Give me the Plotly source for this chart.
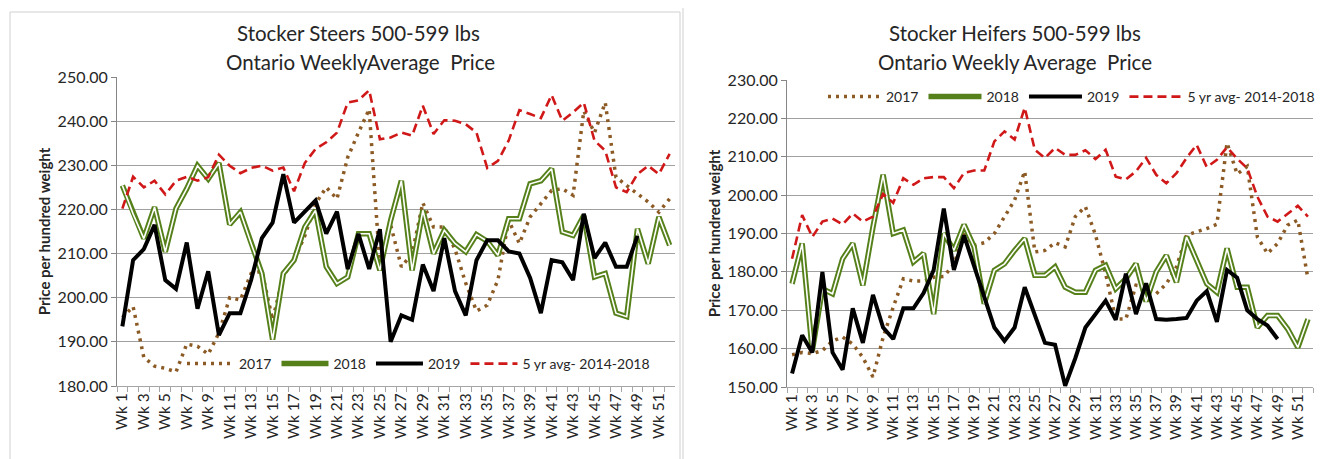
import plotly.graph_objects as go

weeks = [f"Wk {i}" for i in range(1, 53)]
tick_text = [w if (i % 2 == 0) else "" for i, w in enumerate(weeks)]

steers_2017 = [195.5, 198.0, 186.5, 184.5, 184.0, 183.2, 189.5, 189.0, 187.2, 192.0,
               200.0, 199.5, 205.5, 206.0, 195.0, 205.0, 208.5, 214.0, 221.3, 225.0,
               222.4, 231.8, 237.4, 242.7, 207.0, 216.5, 207.0, 210.0, 221.5, 216.0,
               216.0, 211.0, 203.3, 197.0, 198.3, 204.0, 217.5, 212.3, 218.3, 221.3,
               224.3, 224.7, 223.2, 242.3, 237.4, 244.2, 227.3, 225.4, 223.5, 221.7,
               219.4, 222.4]
steers_2018 = [225.4, 219.0, 213.4, 220.5, 210.4, 220.2, 224.7, 229.9, 226.9, 230.5,
               216.6, 219.4, 212.3, 205.5, 190.5, 205.5, 208.5, 216.0, 219.8, 207.0,
               203.2, 204.7, 214.5, 214.5, 206.2, 217.5, 226.5, 206.2, 219.8, 210.0,
               215.3, 212.3, 210.4, 214.3, 212.8, 209.6, 217.9, 217.9, 225.8, 226.5,
               229.2, 214.9, 214.1, 218.6, 204.7, 205.5, 196.5, 195.7, 215.6, 207.7,
               218.3, 211.9]
steers_2019 = [193.5, 208.5, 211.0, 216.5, 204.0, 202.0, 212.5, 197.5, 206.0, 191.5,
               196.5, 196.5, 204.0, 213.5, 217.0, 228.0, 217.0, 219.5, 222.0, 214.5,
               219.5, 206.5, 214.5, 206.5, 215.5, 190.0, 196.0, 195.0, 207.5, 201.5,
               213.5, 201.5, 196.0, 208.5, 213.0, 213.0, 210.5, 210.0, 204.5, 196.5,
               208.5, 208.0, 204.0, 219.0, 209.0, 212.5, 207.0, 207.0, 214.0]
steers_5yr = [220.2, 227.4, 225.0, 226.5, 223.4, 226.5, 227.4, 226.5, 227.3, 232.4,
              229.9, 228.2, 229.4, 229.9, 228.8, 229.5, 224.1, 230.5, 233.7, 235.2,
              237.4, 244.2, 244.7, 247.0, 235.9, 236.3, 237.4, 236.7, 243.5, 237.1,
              240.2, 240.1, 239.3, 237.4, 229.4, 231.0, 235.6, 242.5, 241.6, 240.7,
              245.9, 240.1, 242.0, 244.2, 235.6, 233.3, 225.0, 223.9, 228.0, 229.9,
              228.0, 232.6]

heifers_2017 = [158.4, 159.0, 158.7, 159.5, 162.0, 163.0, 161.2, 157.7, 152.6, 162.9,
                170.8, 178.2, 177.6, 177.6, 178.6, 178.8, 182.0, 189.6, 186.9, 187.6,
                190.0, 194.4, 198.7, 206.2, 185.2, 185.6, 187.6, 186.5, 194.4, 197.0,
                189.6, 179.5, 167.7, 167.7, 176.5, 176.0, 174.3, 176.9, 181.3, 189.6,
                190.4, 191.3, 192.4, 213.6, 205.5, 207.5, 189.1, 184.8, 187.4, 192.2,
                193.5, 178.2]
heifers_2018 = [176.9, 187.4, 159.4, 175.6, 174.3, 183.4, 187.4, 176.5, 191.7, 205.3,
                190.0, 190.9, 182.6, 184.8, 169.0, 190.0, 185.6, 192.3, 186.5, 171.7,
                180.4, 182.1, 185.6, 188.7, 179.1, 179.1, 181.3, 176.0, 174.7, 174.7,
                180.4, 181.7, 175.6, 178.2, 182.1, 172.3, 180.0, 184.3, 177.3, 189.1,
                183.0, 176.9, 174.7, 186.1, 176.0, 176.0, 165.5, 168.6, 168.6, 165.1,
                160.3, 167.7]
heifers_2019 = [153.5, 163.5, 159.0, 180.0, 159.0, 154.5, 170.5, 161.5, 174.0, 165.5,
                162.5, 170.5, 170.5, 174.5, 180.5, 196.5, 180.5, 189.5, 181.5, 173.5,
                165.5, 162.0, 165.5, 176.0, 169.0, 161.5, 161.0, 150.3, 157.5, 165.5,
                169.0, 172.5, 167.5, 179.5, 169.0, 177.0, 167.7, 167.5, 167.7, 168.0,
                172.5, 175.0, 167.0, 180.5, 178.5, 170.0, 167.7, 166.0, 162.5]
heifers_5yr = [183.4, 194.8, 189.1, 193.1, 193.9, 192.4, 195.2, 193.1, 194.4, 200.3,
               198.0, 204.4, 202.7, 204.4, 204.7, 204.7, 201.8, 205.8, 206.4, 206.4,
               214.0, 216.6, 214.5, 222.8, 211.8, 209.7, 212.3, 210.5, 210.5, 211.7,
               209.4, 211.8, 204.8, 204.1, 206.2, 209.7, 205.3, 203.1, 205.7, 209.7,
               213.1, 207.3, 209.2, 212.5, 209.5, 207.0, 199.6, 194.4, 193.1, 195.2,
               197.2, 194.4]

BROWN = "#8C5A24"
GREEN = "#55801A"
RED = "#D01818"
FONT = "Lato"
TXT = "#262626"

OFF = 8  # page body margin of the browser
W, H = 1328 - OFF, 459 - OFF


def add_chart(fig, xa, ya, leg, d17, d18, d19, d5):
    common = dict(xaxis=xa, yaxis=ya, mode="lines", legend=leg)
    fig.add_trace(go.Scatter(x=weeks[:len(d17)], y=d17, name="2017",
                             line=dict(color=BROWN, width=3.5, dash="3px,5px"), **common))
    fig.add_trace(go.Scatter(x=weeks[:len(d18)], y=d18, name="2018", legendgroup=leg + "g18",
                             line=dict(color=GREEN, width=5.5), **common))
    fig.add_trace(go.Scatter(x=weeks[:len(d18)], y=d18, name="2018", legendgroup=leg + "g18",
                             showlegend=False, hoverinfo="skip",
                             line=dict(color="white", width=1.6), **common))
    fig.add_trace(go.Scatter(x=weeks[:len(d19)], y=d19, name="2019",
                             line=dict(color="black", width=4), **common))
    fig.add_trace(go.Scatter(x=weeks[:len(d5)], y=d5, name="5 yr avg- 2014-2018",
                             line=dict(color=RED, width=2.6, dash="9px,5px"), **common))


fig = go.Figure()
add_chart(fig, "x", "y", "legend", steers_2017, steers_2018, steers_2019, steers_5yr)
add_chart(fig, "x2", "y2", "legend2", heifers_2017, heifers_2018, heifers_2019, heifers_5yr)


def px_x(p):
    return (p - OFF) / W


def px_y(p):
    return 1 - (p - OFF) / H


xcommon = dict(type="category", categoryorder="array", categoryarray=weeks,
               tickmode="array", tickvals=weeks, ticktext=tick_text,
               tickson="boundaries", ticks="outside", ticklen=5, tickcolor="#A6A6A6",
               tickangle=-90, showgrid=False, showline=True, linecolor="#A6A6A6",
               linewidth=1, tickfont=dict(family=FONT, size=15.5, color=TXT),
               range=[-0.5, 51.5], fixedrange=True, automargin=False)
ycommon = dict(showgrid=True, gridcolor="#A0A0A0", gridwidth=1, showline=True,
               linecolor="#868686", linewidth=1, ticks="outside", ticklen=5,
               tickcolor="#868686", tickformat=".2f", dtick=10, automargin=False,
               tickfont=dict(family=FONT, size=16, color=TXT), zeroline=False,
               title=dict(text="<b>Price per hundred weight</b>", standoff=3,
                          font=dict(family=FONT, size=15, color=TXT)))

fig.update_layout(
    width=W, height=H,
    margin=dict(l=0, r=0, t=0, b=0, autoexpand=False),
    paper_bgcolor="white", plot_bgcolor="white",
    showlegend=True,
    xaxis=dict(domain=[px_x(117), px_x(675)], anchor="y", **xcommon),
    yaxis=dict(domain=[px_y(386), px_y(77)], anchor="x", range=[180, 250], **ycommon),
    xaxis2=dict(domain=[px_x(787), px_x(1313)], anchor="y2", **xcommon),
    yaxis2=dict(domain=[px_y(387), px_y(80)], anchor="x2", range=[150, 230], **ycommon),
    legend=dict(orientation="h", x=px_x(182), y=px_y(364), xanchor="left", yanchor="middle",
                font=dict(family=FONT, size=14, color=TXT), bgcolor="rgba(0,0,0,0)",
                itemwidth=47, tracegroupgap=0),
    legend2=dict(orientation="h", x=px_x(823), y=px_y(97), xanchor="left", yanchor="middle",
                 font=dict(family=FONT, size=14, color=TXT), bgcolor="rgba(0,0,0,0)",
                 itemwidth=53, tracegroupgap=0),
    hovermode=False,
)

ann_font = dict(family=FONT, size=20.5, color=TXT)
for txt, xc, yc in [("Stocker Steers 500-599 lbs", 358, 33),
                    ("Ontario WeeklyAverage  Price", 360, 62),
                    ("Stocker Heifers 500-599 lbs", 1015, 33),
                    ("Ontario Weekly Average  Price", 1015, 62)]:
    fig.add_annotation(text=txt, x=px_x(xc), y=px_y(yc), xref="paper", yref="paper",
                       xanchor="center", yanchor="middle", showarrow=False, font=ann_font)

# chart area borders
fig.add_shape(type="rect", xref="paper", yref="paper", x0=px_x(10), x1=px_x(680),
              y0=-0.05, y1=px_y(12), line=dict(color="#D0D0D0", width=1))
fig.add_shape(type="rect", xref="paper", yref="paper", x0=px_x(683), x1=1.05,
              y0=-0.05, y1=1.05, line=dict(color="#D0D0D0", width=1))

fig.write_html("out.html")
